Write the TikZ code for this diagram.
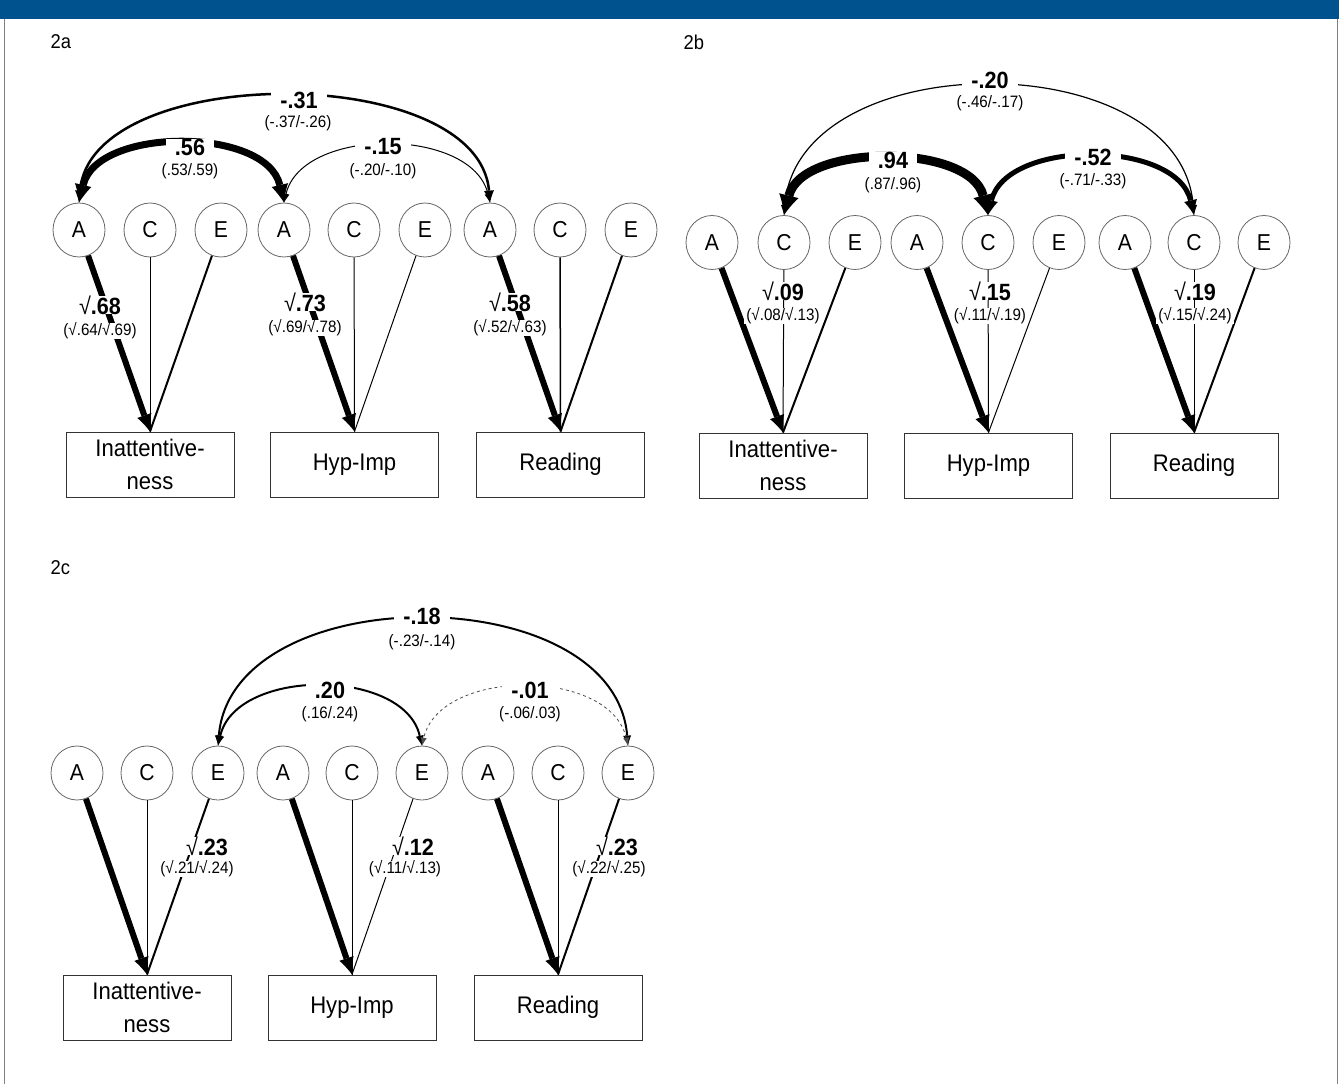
\documentclass[tikz,border=0pt]{standalone}
\usepackage{fontspec}
\setmainfont{Liberation Sans}[FakeStretch=0.92]
\usetikzlibrary{arrows.meta,shapes.geometric}
\definecolor{barblue}{HTML}{00528F}
\definecolor{framegray}{HTML}{808080}
\begin{document}
\begin{tikzpicture}[x=1pt,y=-1pt,
  lv/.style={ellipse, draw=black!60, line width=0.8pt, minimum width=52pt, minimum height=54pt, inner sep=0pt, font=\fontsize{23}{26}\selectfont},
  obs/.style={rectangle, draw=black!80, line width=1pt, minimum width=168pt, minimum height=65pt, inner sep=0pt, align=center, font=\fontsize{24}{33}\selectfont},
  est/.style={fill=white, inner xsep=9pt, inner ysep=0pt, font=\bfseries\fontsize{23.5}{26}\selectfont},
  ci/.style={fill=white, inner xsep=2pt, inner ysep=0pt, font=\fontsize{16.5}{18}\selectfont},
  panel/.style={anchor=west, font=\fontsize{20}{22}\selectfont},
  loadA/.style={line width=6pt, -{Latex[length=17pt,width=15pt,line width=0pt]}},
  loadThin/.style={line width=1pt},
  loadMid/.style={line width=2pt},
]
\useasboundingbox (0,0) rectangle (1339,1084);
% frame
\fill[barblue] (0,0) rectangle (1339,19);
\draw[framegray, line width=1.5pt] (4.5,19) -- (4.5,1084);
\draw[framegray, line width=1.5pt] (1337.5,19) -- (1337.5,1084);

\node[panel] (la) at (47,42) {2a};
\node[panel] (lb) at (680,42) {2b};
\node[panel] (lc) at (47,568) {2c};

% ===== 2a =====
\foreach \n/\x/\t in {1A/79/A,1C/150/C,1E/221/E,2A/284/A,2C/354/C,2E/425/E,3A/490/A,3C/560/C,3E/631/E}
  \node[lv] (a\n) at (\x,230) {\t};
\node[obs] (aI) at (150,464.5) {Inattentive-\\ness};
\node[obs] (aH) at (354.5,464.5) {Hyp-Imp};
\node[obs] (aR) at (560.5,464.5) {Reading};

\draw[loadThin] (a1C) -- (aI.north);
\draw[loadMid] (a1E) -- (aI.north);
\draw[loadA] (a1A) -- (aI.north);
\draw[loadThin] (a2C) -- (aH.north);
\draw[loadThin] (a2E) -- (aH.north);
\draw[loadA] (a2A) -- (aH.north);
\draw[line width=1.5pt] (a3C) -- (aR.north);
\draw[loadMid] (a3E) -- (aR.north);
\draw[loadA] (a3A) -- (aR.north);

\draw[line width=2.5pt, {Latex[length=12pt,width=10pt,line width=0pt]}-{Latex[length=12pt,width=10pt,line width=0pt]}]
  (a3A.north) .. controls +(-12,-141) and +(12,-141) .. (a1A.north);
\draw[line width=7pt, {Latex[length=18pt,width=17pt,line width=0pt]}-{Latex[length=18pt,width=17pt,line width=0pt]}]
  (a2A.north) .. controls +(-18,-76) and +(18,-76) .. (a1A.north);
\draw[line width=1pt, {Latex[length=9pt,width=7pt,line width=0pt]}-{Latex[length=9pt,width=7pt,line width=0pt]}]
  (a3A.north) .. controls +(-18,-76) and +(18,-76) .. (a2A.north);

\node[est] (e1) at (299,100) {-.31};
\node[ci] (c1) at (298,123) {(-.37/-.26)};
\node[est] (e2) at (190,147) {.56};
\node[ci] (c2) at (190,171) {(.53/.59)};
\node[est] (e3) at (383,147) {-.15};
\node[ci] (c3) at (383,171) {(-.20/-.10)};

\node[est,inner xsep=1pt] (e4) at (100,305) {\textmd{√}.68};
\node[ci] (c4) at (100,331) {(√.64/√.69)};
\node[est,inner xsep=1pt] (e5) at (305,302) {\textmd{√}.73};
\node[ci] (c5) at (305,328) {(√.69/√.78)};
\node[est,inner xsep=1pt] (e6) at (510,302) {\textmd{√}.58};
\node[ci] (c6) at (510,328) {(√.52/√.63)};

% ===== 2b =====
\foreach \n/\x/\t in {1A/712/A,1C/784/C,1E/855/E,2A/917/A,2C/988/C,2E/1059/E,3A/1125/A,3C/1194/C,3E/1264/E}
  \node[lv] (b\n) at (\x,242.5) {\t};
\node[obs] (bI) at (783,465.5) {Inattentive-\\ness};
\node[obs] (bH) at (988.5,465.5) {Hyp-Imp};
\node[obs] (bR) at (1194,465.5) {Reading};

\draw[loadThin] (b1C) -- (bI.north);
\draw[loadMid] (b1E) -- (bI.north);
\draw[loadA] (b1A) -- (bI.north);
\draw[loadThin] (b2C) -- (bH.north);
\draw[loadThin] (b2E) -- (bH.north);
\draw[loadA] (b2A) -- (bH.north);
\draw[loadThin] (b3C) -- (bR.north);
\draw[loadMid] (b3E) -- (bR.north);
\draw[loadA] (b3A) -- (bR.north);

\draw[line width=1.2pt, {Latex[length=10pt,width=8pt,line width=0pt]}-{Latex[length=10pt,width=8pt,line width=0pt]}]
  (b3C.north) .. controls +(-14,-172) and +(14,-172) .. (b1C.north);
\draw[line width=9pt, {Latex[length=20pt,width=20pt,line width=0pt]}-{Latex[length=20pt,width=20pt,line width=0pt]}]
  (b2C.north) .. controls +(-18,-72) and +(18,-72) .. (b1C.north);
\draw[line width=5pt, {Latex[length=15pt,width=13pt,line width=0pt]}-{Latex[length=15pt,width=13pt,line width=0pt]}]
  (b3C.north) .. controls +(-18,-76) and +(18,-76) .. (b2C.north);

\node[est] (e7) at (990,80) {-.20};
\node[ci] (c7) at (990,103) {(-.46/-.17)};
\node[est] (e8) at (893,160) {.94};
\node[ci] (c8) at (893,185) {(.87/.96)};
\node[est] (e9) at (1093,157) {-.52};
\node[ci] (c9) at (1093,181) {(-.71/-.33)};

\node[est,inner xsep=1pt] (e10) at (783,291) {\textmd{√}.09};
\node[ci] (c10) at (783,316) {(√.08/√.13)};
\node[est,inner xsep=1pt] (e11) at (990,291) {\textmd{√}.15};
\node[ci] (c11) at (990,316) {(√.11/√.19)};
\node[est,inner xsep=1pt] (e12) at (1195,291) {\textmd{√}.19};
\node[ci] (c12) at (1195,316) {(√.15/√.24)};

% ===== 2c =====
\foreach \n/\x/\t in {1A/77/A,1C/147/C,1E/218/E,2A/283/A,2C/352/C,2E/422/E,3A/488/A,3C/558/C,3E/628/E}
  \node[lv] (c\n) at (\x,773) {\t};
\node[obs] (cI) at (147,1007.5) {Inattentive-\\ness};
\node[obs] (cH) at (352,1007.5) {Hyp-Imp};
\node[obs] (cR) at (558,1007.5) {Reading};

\draw[loadThin] (c1C) -- (cI.north);
\draw[loadMid] (c1E) -- (cI.north);
\draw[loadA] (c1A) -- (cI.north);
\draw[loadThin] (c2C) -- (cH.north);
\draw[loadThin] (c2E) -- (cH.north);
\draw[loadA] (c2A) -- (cH.north);
\draw[loadThin] (c3C) -- (cR.north);
\draw[loadMid] (c3E) -- (cR.north);
\draw[loadA] (c3A) -- (cR.north);

\draw[line width=2pt, {Latex[length=10pt,width=8pt,line width=0pt]}-{Latex[length=10pt,width=8pt,line width=0pt]}]
  (c3E.north) .. controls +(-14,-168) and +(14,-168) .. (c1E.north);
\draw[line width=2pt, {Latex[length=10pt,width=8pt,line width=0pt]}-{Latex[length=10pt,width=8pt,line width=0pt]}]
  (c2E.north) .. controls +(-18,-78) and +(18,-78) .. (c1E.north);
\draw[line width=0.8pt, black!70, dashed, {Latex[length=8pt,width=6pt,line width=0pt]}-{Latex[length=8pt,width=6pt,line width=0pt]}]
  (c3E.north) .. controls +(-18,-78) and +(18,-78) .. (c2E.north);

\node[est] (e13) at (422,616) {-.18};
\node[ci] (c13) at (422,642) {(-.23/-.14)};
\node[est] (e14) at (330,690) {.20};
\node[ci] (c14) at (330,714) {(.16/.24)};
\node[est] (e15) at (530,690) {-.01};
\node[ci] (c15) at (530,714) {(-.06/.03)};

\node[est,inner xsep=1pt] (e16) at (207,846) {\textmd{√}.23};
\node[ci] (c16) at (197,869) {(√.21/√.24)};
\node[est,inner xsep=1pt] (e17) at (413,846) {\textmd{√}.12};
\node[ci] (c17) at (405,869) {(√.11/√.13)};
\node[est,inner xsep=1pt] (e18) at (617,846) {\textmd{√}.23};
\node[ci] (c18) at (609,869) {(√.22/√.25)};
\end{tikzpicture}
\end{document}
